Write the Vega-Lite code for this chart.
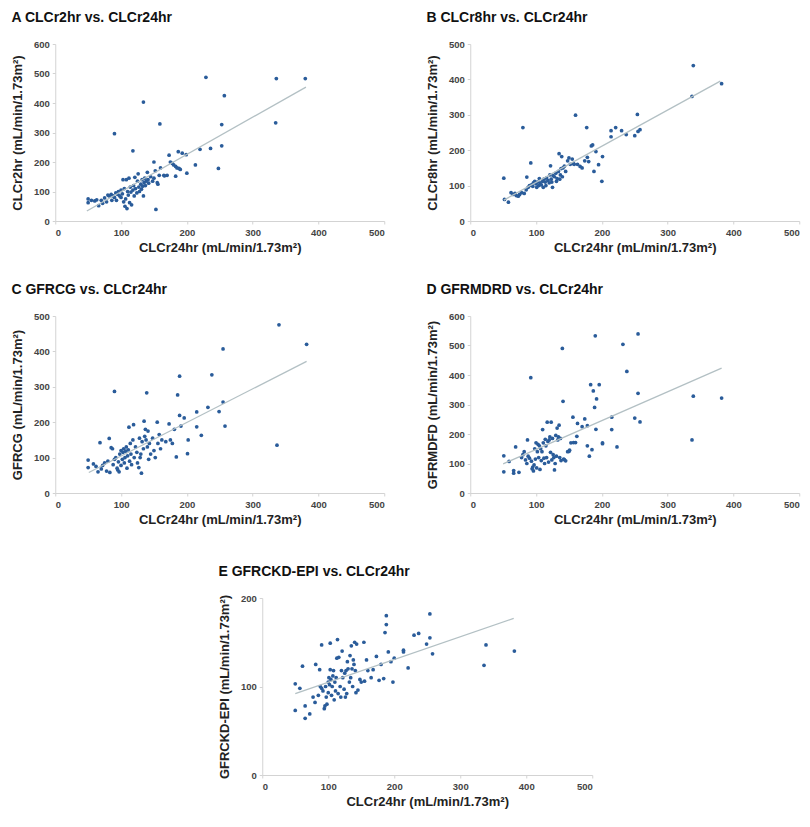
{
"$schema": "https://vega.github.io/schema/vega-lite/v6.json",
"background": "white",
"padding": {"left": 11, "top": 11, "right": 5, "bottom": 5},
"config": {
  "view": {"stroke": null},
  "font": "Liberation Sans",
  "axis": {"grid": false, "domainColor": "#d3d3d3", "tickColor": "#d3d3d3", "tickSize": 3, "labelFont": "Liberation Sans", "labelFontSize": 9.5, "labelFontWeight": "bold", "labelColor": "#444444", "labelPadding": 3, "labelOverlap": false, "labelSeparation": 0, "labelBound": false, "titleFont": "Liberation Sans", "titleFontSize": 13, "titleFontWeight": "bold", "titleColor": "#222222"},
  "axisX": {"titlePadding": 5},
  "axisY": {"titlePadding": 9, "labelOverlap": false, "labelBaseline": "middle"},
  "title": {"font": "Liberation Sans", "fontSize": 14, "fontWeight": "bold", "anchor": "start", "frame": "bounds", "color": "#111111", "offset": 14}
},
"datasets": {
  "A": [{"x":50,"y":62},{"x":50,"y":75},{"x":55,"y":70},{"x":60,"y":68},{"x":63,"y":72},{"x":66,"y":52},{"x":70,"y":70},{"x":72,"y":60},{"x":75,"y":78},{"x":78,"y":65},{"x":80,"y":88},{"x":82,"y":85},{"x":85,"y":90},{"x":86,"y":70},{"x":88,"y":85},{"x":90,"y":80},{"x":92,"y":95},{"x":93,"y":70},{"x":95,"y":90},{"x":96,"y":100},{"x":98,"y":85},{"x":100,"y":105},{"x":100,"y":80},{"x":102,"y":92},{"x":103,"y":140},{"x":104,"y":65},{"x":105,"y":110},{"x":106,"y":50},{"x":107,"y":75},{"x":108,"y":140},{"x":109,"y":42},{"x":110,"y":100},{"x":111,"y":88},{"x":112,"y":145},{"x":113,"y":62},{"x":114,"y":115},{"x":115,"y":98},{"x":116,"y":55},{"x":118,"y":105},{"x":119,"y":120},{"x":120,"y":85},{"x":121,"y":148},{"x":122,"y":110},{"x":124,"y":95},{"x":125,"y":135},{"x":126,"y":160},{"x":127,"y":115},{"x":128,"y":100},{"x":130,"y":125},{"x":131,"y":108},{"x":132,"y":140},{"x":133,"y":118},{"x":134,"y":85},{"x":135,"y":130},{"x":136,"y":145},{"x":137,"y":120},{"x":138,"y":135},{"x":140,"y":165},{"x":141,"y":140},{"x":142,"y":128},{"x":145,"y":150},{"x":148,"y":135},{"x":150,"y":200},{"x":150,"y":145},{"x":152,"y":170},{"x":155,"y":130},{"x":156,"y":125},{"x":158,"y":155},{"x":160,"y":180},{"x":165,"y":155},{"x":170,"y":155},{"x":173,"y":223},{"x":175,"y":200},{"x":178,"y":195},{"x":180,"y":190},{"x":183,"y":185},{"x":185,"y":180},{"x":187,"y":235},{"x":188,"y":178},{"x":190,"y":175},{"x":193,"y":230},{"x":199,"y":225},{"x":200,"y":162},{"x":213,"y":190},{"x":220,"y":243},{"x":229,"y":487},{"x":236,"y":246},{"x":248,"y":178},{"x":253,"y":255},{"x":253,"y":327},{"x":257,"y":425},{"x":335,"y":333},{"x":336,"y":483},{"x":380,"y":483},{"x":134,"y":403},{"x":159,"y":329},{"x":90,"y":296},{"x":118,"y":238},{"x":153,"y":39},{"x":166,"y":153},{"x":183,"y":152}],
  "B": [{"x":51,"y":121},{"x":52,"y":61},{"x":58,"y":53},{"x":62,"y":80},{"x":65,"y":75},{"x":68,"y":78},{"x":70,"y":72},{"x":73,"y":70},{"x":75,"y":75},{"x":78,"y":80},{"x":80,"y":264},{"x":82,"y":78},{"x":85,"y":88},{"x":86,"y":124},{"x":88,"y":95},{"x":90,"y":100},{"x":92,"y":164},{"x":93,"y":102},{"x":95,"y":98},{"x":96,"y":108},{"x":98,"y":112},{"x":100,"y":105},{"x":101,"y":95},{"x":102,"y":110},{"x":104,"y":100},{"x":105,"y":120},{"x":106,"y":108},{"x":108,"y":102},{"x":110,"y":112},{"x":111,"y":95},{"x":112,"y":118},{"x":114,"y":110},{"x":115,"y":100},{"x":116,"y":122},{"x":118,"y":115},{"x":120,"y":108},{"x":121,"y":130},{"x":122,"y":156},{"x":123,"y":118},{"x":124,"y":110},{"x":125,"y":95},{"x":126,"y":128},{"x":128,"y":125},{"x":130,"y":135},{"x":131,"y":112},{"x":132,"y":120},{"x":134,"y":140},{"x":135,"y":190},{"x":136,"y":118},{"x":137,"y":130},{"x":138,"y":148},{"x":139,"y":182},{"x":140,"y":125},{"x":141,"y":150},{"x":143,"y":155},{"x":145,"y":140},{"x":148,"y":170},{"x":150,"y":178},{"x":152,"y":160},{"x":155,"y":175},{"x":157,"y":162},{"x":158,"y":160},{"x":160,"y":299},{"x":163,"y":160},{"x":167,"y":154},{"x":170,"y":150},{"x":174,"y":170},{"x":177,"y":264},{"x":178,"y":180},{"x":180,"y":168},{"x":184,"y":212},{"x":186,"y":215},{"x":188,"y":140},{"x":191,"y":196},{"x":195,"y":159},{"x":200,"y":112},{"x":201,"y":182},{"x":214,"y":238},{"x":214,"y":255},{"x":221,"y":264},{"x":230,"y":255},{"x":237,"y":244},{"x":250,"y":241},{"x":254,"y":301},{"x":255,"y":253},{"x":258,"y":258},{"x":337,"y":352},{"x":339,"y":439},{"x":382,"y":388}],
  "C": [{"x":50,"y":93},{"x":50,"y":72},{"x":58,"y":82},{"x":62,"y":75},{"x":65,"y":60},{"x":68,"y":142},{"x":70,"y":68},{"x":72,"y":78},{"x":75,"y":85},{"x":78,"y":62},{"x":80,"y":90},{"x":82,"y":154},{"x":83,"y":58},{"x":85,"y":128},{"x":87,"y":125},{"x":88,"y":80},{"x":90,"y":287},{"x":90,"y":95},{"x":92,"y":100},{"x":94,"y":70},{"x":95,"y":65},{"x":96,"y":88},{"x":97,"y":60},{"x":98,"y":110},{"x":100,"y":120},{"x":100,"y":78},{"x":102,"y":95},{"x":103,"y":115},{"x":104,"y":125},{"x":105,"y":85},{"x":106,"y":100},{"x":107,"y":118},{"x":108,"y":130},{"x":109,"y":70},{"x":110,"y":105},{"x":111,"y":122},{"x":112,"y":186},{"x":113,"y":90},{"x":114,"y":140},{"x":115,"y":110},{"x":116,"y":80},{"x":118,"y":150},{"x":119,"y":193},{"x":120,"y":100},{"x":122,"y":130},{"x":124,"y":115},{"x":125,"y":85},{"x":127,"y":72},{"x":128,"y":155},{"x":129,"y":100},{"x":130,"y":110},{"x":131,"y":56},{"x":132,"y":145},{"x":134,"y":125},{"x":135,"y":203},{"x":136,"y":160},{"x":137,"y":180},{"x":138,"y":150},{"x":139,"y":283},{"x":140,"y":130},{"x":141,"y":175},{"x":142,"y":95},{"x":143,"y":140},{"x":145,"y":110},{"x":148,"y":155},{"x":150,"y":120},{"x":152,"y":100},{"x":155,"y":200},{"x":156,"y":140},{"x":158,"y":165},{"x":160,"y":125},{"x":162,"y":150},{"x":168,"y":145},{"x":173,"y":195},{"x":175,"y":150},{"x":178,"y":140},{"x":181,"y":180},{"x":184,"y":102},{"x":186,"y":277},{"x":189,"y":330},{"x":189,"y":219},{"x":191,"y":189},{"x":196,"y":212},{"x":201,"y":111},{"x":202,"y":150},{"x":215,"y":229},{"x":215,"y":187},{"x":222,"y":163},{"x":232,"y":242},{"x":238,"y":334},{"x":249,"y":230},{"x":255,"y":407},{"x":255,"y":257},{"x":258,"y":189},{"x":337,"y":135},{"x":340,"y":475},{"x":382,"y":420}],
  "D": [{"x":51,"y":126},{"x":51,"y":72},{"x":59,"y":107},{"x":66,"y":76},{"x":66,"y":67},{"x":69,"y":156},{"x":74,"y":70},{"x":78,"y":120},{"x":80,"y":130},{"x":82,"y":140},{"x":84,"y":112},{"x":86,"y":100},{"x":87,"y":180},{"x":88,"y":125},{"x":90,"y":118},{"x":92,"y":391},{"x":93,"y":108},{"x":94,"y":82},{"x":95,"y":88},{"x":96,"y":75},{"x":97,"y":95},{"x":98,"y":150},{"x":99,"y":115},{"x":100,"y":170},{"x":101,"y":85},{"x":102,"y":140},{"x":103,"y":165},{"x":104,"y":120},{"x":105,"y":160},{"x":106,"y":80},{"x":107,"y":150},{"x":108,"y":110},{"x":109,"y":140},{"x":110,"y":215},{"x":111,"y":170},{"x":112,"y":118},{"x":113,"y":100},{"x":114,"y":182},{"x":115,"y":160},{"x":116,"y":120},{"x":117,"y":240},{"x":118,"y":175},{"x":119,"y":105},{"x":120,"y":180},{"x":121,"y":190},{"x":122,"y":138},{"x":123,"y":240},{"x":124,"y":112},{"x":125,"y":185},{"x":126,"y":130},{"x":127,"y":120},{"x":128,"y":78},{"x":129,"y":100},{"x":130,"y":195},{"x":131,"y":125},{"x":132,"y":220},{"x":133,"y":180},{"x":134,"y":190},{"x":135,"y":230},{"x":136,"y":120},{"x":137,"y":185},{"x":138,"y":110},{"x":140,"y":490},{"x":141,"y":311},{"x":142,"y":115},{"x":143,"y":113},{"x":145,"y":109},{"x":148,"y":140},{"x":150,"y":141},{"x":151,"y":145},{"x":153,"y":170},{"x":156,"y":257},{"x":157,"y":171},{"x":160,"y":171},{"x":162,"y":192},{"x":163,"y":236},{"x":170,"y":225},{"x":174,"y":251},{"x":178,"y":228},{"x":178,"y":160},{"x":181,"y":125},{"x":183,"y":367},{"x":185,"y":147},{"x":187,"y":346},{"x":189,"y":290},{"x":190,"y":533},{"x":191,"y":216},{"x":192,"y":319},{"x":196,"y":367},{"x":201,"y":170},{"x":201,"y":167},{"x":215,"y":257},{"x":215,"y":215},{"x":223,"y":156},{"x":232,"y":504},{"x":238,"y":412},{"x":250,"y":254},{"x":255,"y":539},{"x":255,"y":338},{"x":258,"y":241},{"x":337,"y":180},{"x":339,"y":328},{"x":382,"y":322}],
  "E": [{"x":50,"y":103},{"x":50,"y":73},{"x":57,"y":98},{"x":61,"y":123},{"x":65,"y":78},{"x":65,"y":64},{"x":72,"y":69},{"x":77,"y":88},{"x":80,"y":82},{"x":81,"y":125},{"x":85,"y":90},{"x":87,"y":119},{"x":88,"y":100},{"x":90,"y":147},{"x":90,"y":98},{"x":92,"y":95},{"x":94,"y":75},{"x":95,"y":78},{"x":96,"y":100},{"x":97,"y":88},{"x":98,"y":80},{"x":100,"y":105},{"x":100,"y":93},{"x":101,"y":110},{"x":102,"y":102},{"x":103,"y":119},{"x":103,"y":149},{"x":104,"y":108},{"x":105,"y":90},{"x":106,"y":100},{"x":107,"y":112},{"x":108,"y":118},{"x":109,"y":85},{"x":110,"y":105},{"x":111,"y":95},{"x":112,"y":110},{"x":113,"y":132},{"x":114,"y":153},{"x":115,"y":92},{"x":116,"y":133},{"x":118,"y":100},{"x":119,"y":88},{"x":120,"y":118},{"x":121,"y":140},{"x":122,"y":110},{"x":124,"y":97},{"x":125,"y":115},{"x":126,"y":88},{"x":127,"y":118},{"x":128,"y":92},{"x":129,"y":128},{"x":130,"y":120},{"x":132,"y":105},{"x":133,"y":135},{"x":134,"y":110},{"x":135,"y":146},{"x":136,"y":120},{"x":137,"y":100},{"x":138,"y":130},{"x":139,"y":125},{"x":140,"y":150},{"x":141,"y":118},{"x":142,"y":93},{"x":143,"y":148},{"x":145,"y":96},{"x":148,"y":108},{"x":150,"y":105},{"x":154,"y":150},{"x":155,"y":106},{"x":158,"y":130},{"x":160,"y":118},{"x":165,"y":110},{"x":168,"y":119},{"x":173,"y":134},{"x":177,"y":107},{"x":180,"y":125},{"x":184,"y":109},{"x":186,"y":161},{"x":188,"y":180},{"x":188,"y":170},{"x":191,"y":139},{"x":195,"y":128},{"x":198,"y":105},{"x":200,"y":132},{"x":214,"y":141},{"x":214,"y":139},{"x":221,"y":121},{"x":230,"y":158},{"x":237,"y":160},{"x":249,"y":148},{"x":254,"y":182},{"x":254,"y":155},{"x":258,"y":137},{"x":336,"y":124},{"x":339,"y":147},{"x":382,"y":140}],
  "fitA": [{"x":48,"y":34},{"x":381,"y":454}],
  "fitB": [{"x":51,"y":59},{"x":380,"y":395}],
  "fitC": [{"x":51,"y":58},{"x":382,"y":372}],
  "fitD": [{"x":50,"y":99},{"x":382,"y":423}],
  "fitE": [{"x":50,"y":92},{"x":381,"y":177}]
},
"vconcat": [
  {"vconcat": [
    {"hconcat": [
      {"width": 329, "height": 177, "title": "A  CLCr2hr vs. CLCr24hr",
       "layer": [
        {"data": {"name": "A"}, "mark": {"type": "circle", "size": 14, "color": "#2a5c9a", "opacity": 1},
         "encoding": {"x": {"field": "x", "type": "quantitative", "scale": {"domain": [0, 500]}, "axis": {"title": "CLCr24hr (mL/min/1.73m²)", "values": [0,100,200,300,400,500], "labelOverlap": false}},
                      "y": {"field": "y", "type": "quantitative", "scale": {"domain": [0, 600]}, "axis": {"title": "CLCr2hr (mL/min/1.73m²)", "values": [0,100,200,300,400,500,600], "tickCount": 7, "labelOverlap": false}}}},
        {"data": {"name": "fitA"}, "mark": {"type": "line", "color": "#b3c0c4", "strokeWidth": 1.3},
         "encoding": {"x": {"field": "x", "type": "quantitative"}, "y": {"field": "y", "type": "quantitative"}}},
        {"mark": {"type": "text", "align": "right", "baseline": "middle", "fontSize": 9.5, "fontWeight": "bold", "color": "#333333", "text": "r = 0.80"},
         "encoding": {"x": {"datum": 500, "type": "quantitative"}, "y": {"datum": 540, "type": "quantitative"}}}
       ]},
      {"width": 329, "height": 177, "title": "B  CLCr8hr vs. CLCr24hr",
       "layer": [
        {"data": {"name": "B"}, "mark": {"type": "circle", "size": 14, "color": "#2a5c9a", "opacity": 1},
         "encoding": {"x": {"field": "x", "type": "quantitative", "scale": {"domain": [0, 500]}, "axis": {"title": "CLCr24hr (mL/min/1.73m²)", "values": [0,100,200,300,400,500], "labelOverlap": false}},
                      "y": {"field": "y", "type": "quantitative", "scale": {"domain": [0, 500]}, "axis": {"title": "CLCr8hr (mL/min/1.73m²)", "values": [0,100,200,300,400,500], "tickCount": 6, "labelOverlap": false}}}},
        {"data": {"name": "fitB"}, "mark": {"type": "line", "color": "#b3c0c4", "strokeWidth": 1.3},
         "encoding": {"x": {"field": "x", "type": "quantitative"}, "y": {"field": "y", "type": "quantitative"}}},
        {"mark": {"type": "text", "align": "right", "baseline": "middle", "fontSize": 9.5, "fontWeight": "bold", "color": "#333333", "text": "r = 0.88"},
         "encoding": {"x": {"datum": 500, "type": "quantitative"}, "y": {"datum": 441, "type": "quantitative"}}}
       ]}
    ], "spacing": 41},
    {"hconcat": [
      {"width": 329, "height": 177, "title": "C  GFRCG vs. CLCr24hr",
       "layer": [
        {"data": {"name": "C"}, "mark": {"type": "circle", "size": 14, "color": "#2a5c9a", "opacity": 1},
         "encoding": {"x": {"field": "x", "type": "quantitative", "scale": {"domain": [0, 500]}, "axis": {"title": "CLCr24hr (mL/min/1.73m²)", "values": [0,100,200,300,400,500], "labelOverlap": false}},
                      "y": {"field": "y", "type": "quantitative", "scale": {"domain": [0, 500]}, "axis": {"title": "GFRCG (mL/min/1.73m²)", "values": [0,100,200,300,400,500], "tickCount": 6, "labelOverlap": false}}}},
        {"data": {"name": "fitC"}, "mark": {"type": "line", "color": "#b3c0c4", "strokeWidth": 1.3},
         "encoding": {"x": {"field": "x", "type": "quantitative"}, "y": {"field": "y", "type": "quantitative"}}},
        {"mark": {"type": "text", "align": "right", "baseline": "middle", "fontSize": 9.5, "fontWeight": "bold", "color": "#333333", "text": "r = 0.72"},
         "encoding": {"x": {"datum": 500, "type": "quantitative"}, "y": {"datum": 442, "type": "quantitative"}}}
       ]},
      {"width": 329, "height": 177, "title": "D  GFRMDRD vs. CLCr24hr",
       "layer": [
        {"data": {"name": "D"}, "mark": {"type": "circle", "size": 14, "color": "#2a5c9a", "opacity": 1},
         "encoding": {"x": {"field": "x", "type": "quantitative", "scale": {"domain": [0, 500]}, "axis": {"title": "CLCr24hr (mL/min/1.73m²)", "values": [0,100,200,300,400,500], "labelOverlap": false}},
                      "y": {"field": "y", "type": "quantitative", "scale": {"domain": [0, 600]}, "axis": {"title": "GFRMDFD (mL/min/1.73m²)", "values": [0,100,200,300,400,500,600], "tickCount": 7, "labelOverlap": false}}}},
        {"data": {"name": "fitD"}, "mark": {"type": "line", "color": "#b3c0c4", "strokeWidth": 1.3},
         "encoding": {"x": {"field": "x", "type": "quantitative"}, "y": {"field": "y", "type": "quantitative"}}},
        {"mark": {"type": "text", "align": "right", "baseline": "middle", "fontSize": 9.5, "fontWeight": "bold", "color": "#333333", "text": "r = 0.58"},
         "encoding": {"x": {"datum": 500, "type": "quantitative"}, "y": {"datum": 507, "type": "quantitative"}}}
       ]}
    ], "spacing": 41}
  ], "spacing": 28},
  {"width": 330, "height": 177, "title": "E  GFRCKD-EPI vs. CLCr24hr",
   "layer": [
    {"data": {"name": "E"}, "mark": {"type": "circle", "size": 14, "color": "#2a5c9a", "opacity": 1},
     "encoding": {"x": {"field": "x", "type": "quantitative", "scale": {"domain": [0, 500]}, "axis": {"title": "CLCr24hr (mL/min/1.73m²)", "values": [0,100,200,300,400,500], "labelOverlap": false}},
                  "y": {"field": "y", "type": "quantitative", "scale": {"domain": [0, 200]}, "axis": {"title": "GFRCKD-EPI (mL/min/1.73m²)", "values": [0,100,200], "labelOverlap": false}}}},
    {"data": {"name": "fitE"}, "mark": {"type": "line", "color": "#b3c0c4", "strokeWidth": 1.3},
     "encoding": {"x": {"field": "x", "type": "quantitative"}, "y": {"field": "y", "type": "quantitative"}}},
    {"mark": {"type": "text", "align": "right", "baseline": "middle", "fontSize": 9.5, "fontWeight": "bold", "color": "#333333", "text": "r = 0.58"},
     "encoding": {"x": {"datum": 500, "type": "quantitative"}, "y": {"datum": 200, "type": "quantitative"}}}
   ]}
], "spacing": 38, "center": true
}
